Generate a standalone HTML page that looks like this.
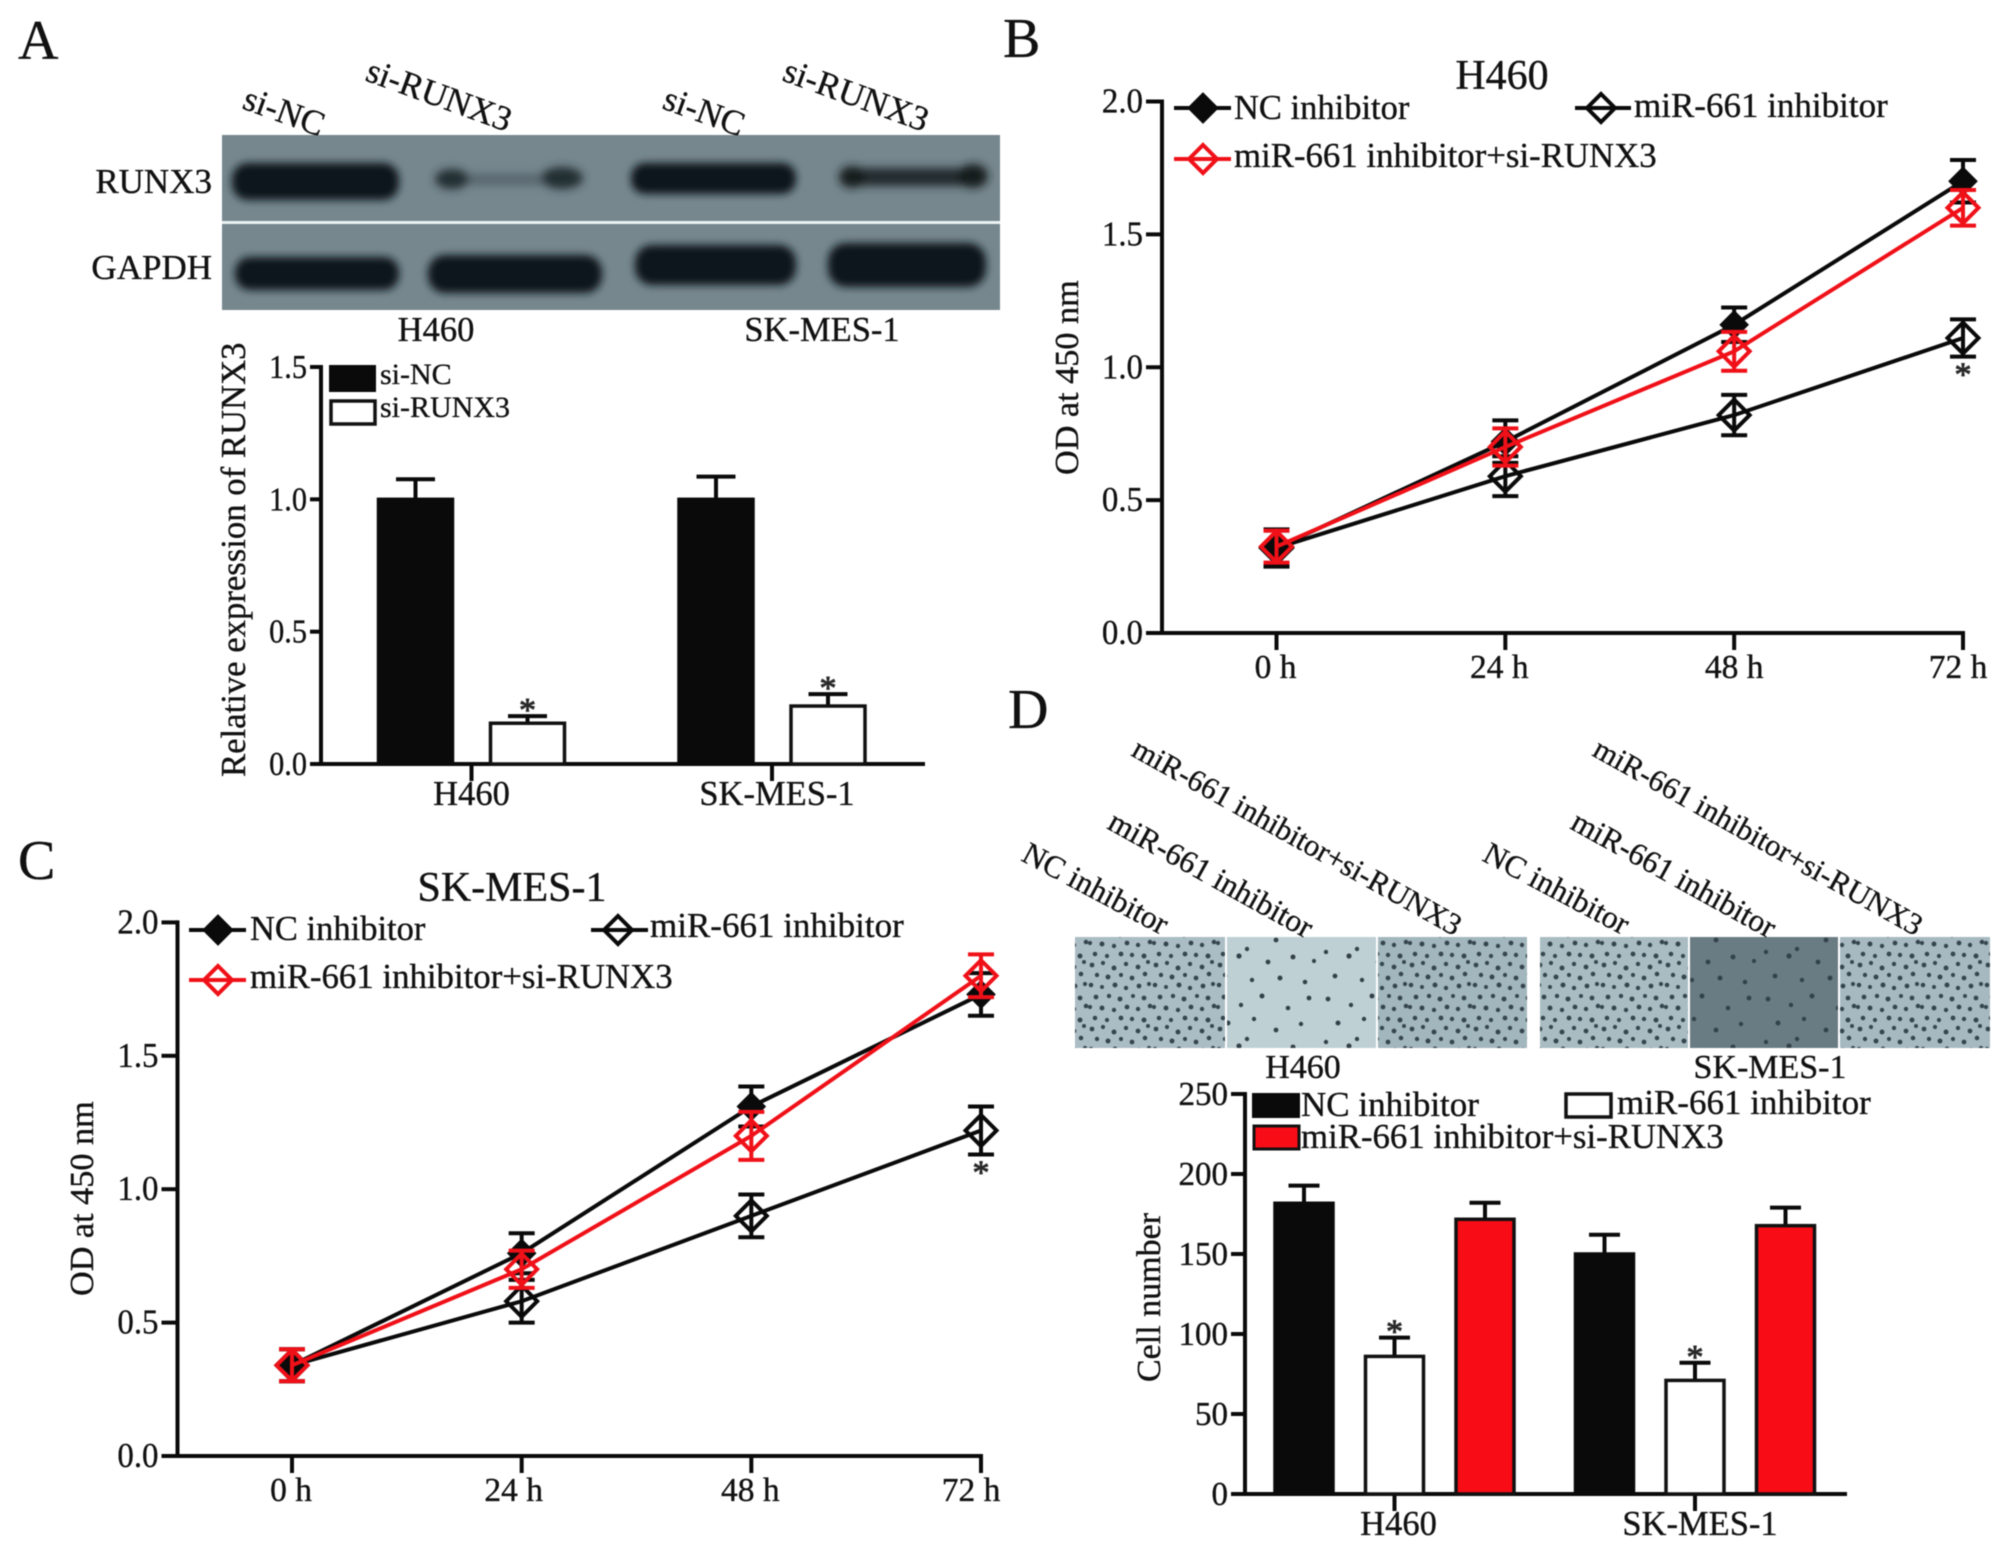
<!DOCTYPE html>
<html lang="en">
<head>
<meta charset="utf-8">
<title>RUNX3 knockdown figure</title>
<style>
html,body{margin:0;padding:0;background:#fff;}
#figure{display:block;width:2008px;height:1554px;filter:blur(.55px);}
#figure text{font-family:"Liberation Serif","Times New Roman",serif;fill:#111;stroke:#111;stroke-width:.35px;}
</style>
</head>
<body>
<svg id="figure" xmlns="http://www.w3.org/2000/svg" width="2008" height="1554" viewBox="0 0 2008 1554">
<defs>
  <filter id="band-blur" x="-20%" y="-50%" width="140%" height="200%"><feGaussianBlur stdDeviation="4"/></filter>
  <filter id="soft-blur" x="-30%" y="-80%" width="160%" height="260%"><feGaussianBlur stdDeviation="4.5"/></filter>
  <pattern id="cells-dense" patternUnits="userSpaceOnUse" width="64" height="64">
    <g fill="#36464f">
      <circle cx="4" cy="5" r="2.4"/><circle cx="15" cy="3" r="2.1"/><circle cx="26" cy="8" r="2.5"/><circle cx="38" cy="4" r="2.2"/><circle cx="50" cy="7" r="2.4"/><circle cx="60" cy="2" r="2"/>
      <circle cx="9" cy="15" r="2.2"/><circle cx="20" cy="17" r="2.5"/><circle cx="33" cy="15" r="2.1"/><circle cx="44" cy="18" r="2.4"/><circle cx="57" cy="14" r="2.3"/>
      <circle cx="3" cy="25" r="2.3"/><circle cx="14" cy="27" r="2"/><circle cx="27" cy="25" r="2.5"/><circle cx="38" cy="28" r="2.2"/><circle cx="51" cy="26" r="2.4"/><circle cx="61" cy="24" r="2.1"/>
      <circle cx="8" cy="37" r="2.4"/><circle cx="21" cy="36" r="2.2"/><circle cx="32" cy="39" r="2.5"/><circle cx="45" cy="36" r="2"/><circle cx="56" cy="38" r="2.4"/>
      <circle cx="2" cy="47" r="2.1"/><circle cx="14" cy="48" r="2.5"/><circle cx="26" cy="50" r="2.2"/><circle cx="39" cy="47" r="2.4"/><circle cx="50" cy="49" r="2.2"/><circle cx="62" cy="46" r="2.3"/>
      <circle cx="7" cy="58" r="2.3"/><circle cx="19" cy="60" r="2.1"/><circle cx="33" cy="58" r="2.4"/><circle cx="44" cy="59" r="2.2"/><circle cx="56" cy="60" r="2.5"/>
    </g>
  </pattern>
  <pattern id="cells-sparse" patternUnits="userSpaceOnUse" width="110" height="90">
    <g fill="#33424a">
      <circle cx="8" cy="9" r="2.4"/><circle cx="31" cy="15" r="2.2"/><circle cx="52" cy="6" r="2.5"/><circle cx="78" cy="18" r="2.3"/><circle cx="99" cy="8" r="2.4"/>
      <circle cx="18" cy="33" r="2.5"/><circle cx="44" cy="29" r="2.2"/><circle cx="66" cy="40" r="2.4"/><circle cx="91" cy="34" r="2.2"/>
      <circle cx="6" cy="52" r="2.2"/><circle cx="29" cy="56" r="2.6"/><circle cx="37" cy="49" r="2.2"/><circle cx="58" cy="62" r="2.4"/><circle cx="83" cy="57" r="2.5"/><circle cx="104" cy="61" r="2.1"/>
      <circle cx="15" cy="76" r="2.4"/><circle cx="42" cy="80" r="2.2"/><circle cx="70" cy="78" r="2.5"/><circle cx="95" cy="82" r="2.3"/>
    </g>
  </pattern>
</defs>
<rect x="0" y="0" width="2008" height="1554" fill="#fff"/>

<!-- Panel letters -->
<text x="18" y="59" font-size="56">A</text>
<text x="1003" y="57" font-size="56">B</text>
<text x="18" y="879" font-size="56">C</text>
<text x="1008" y="728" font-size="56">D</text>

<!-- Panel A western blot -->
<g>
  <rect x="222" y="135" width="778" height="86" fill="#76878e"/>
  <rect x="222" y="224" width="778" height="86" fill="#76878e"/>
  <rect x="222" y="221" width="778" height="3" fill="#eaf1f3"/>
  <g fill="#11171a" filter="url(#band-blur)">
    <rect x="232" y="163" width="167" height="37" rx="16"/>
    <rect x="631" y="163" width="165" height="31" rx="14"/>
    <rect x="235" y="257" width="164" height="33" rx="15"/>
    <rect x="428" y="255" width="174" height="38" rx="17"/>
    <rect x="635" y="245" width="161" height="40" rx="17"/>
    <rect x="828" y="243" width="158" height="44" rx="18"/>
  </g>
  <g filter="url(#soft-blur)">
    <rect x="445" y="174" width="125" height="11" fill="#56666d"/>
    <ellipse cx="452" cy="179" rx="17" ry="10" fill="#242d32"/>
    <ellipse cx="562" cy="178" rx="21" ry="11" fill="#242d32"/>
    <rect x="842" y="168" width="142" height="18" rx="8" fill="#20292d"/>
    <ellipse cx="852" cy="177" rx="13" ry="11" fill="#141a1d"/>
    <ellipse cx="973" cy="176" rx="15" ry="12" fill="#141a1d"/>
  </g>
</g>
<text x="212" y="193" font-size="35" text-anchor="end">RUNX3</text>
<text x="212" y="279" font-size="35" text-anchor="end">GAPDH</text>
<text transform="translate(241,108) rotate(20)" font-size="35">si-NC</text>
<text transform="translate(364,80) rotate(20)" font-size="35">si-RUNX3</text>
<text transform="translate(661,108) rotate(20)" font-size="35">si-NC</text>
<text transform="translate(781,80) rotate(20)" font-size="35">si-RUNX3</text>
<text x="436" y="341" font-size="34.5" text-anchor="middle">H460</text>
<text x="822" y="341" font-size="34.5" text-anchor="middle">SK-MES-1</text>

<!-- Panel A chart text -->
<text transform="translate(245,777) rotate(-90)" font-size="34.7">Relative expression of RUNX3</text>
<rect x="330" y="366" width="45" height="25" fill="#0a0a0a" stroke="#0a0a0a" stroke-width="2"/>
<text x="380" y="384" font-size="30">si-NC</text>
<rect x="331" y="401" width="44" height="23" fill="#fff" stroke="#111" stroke-width="3.5"/>
<text x="380" y="417" font-size="30">si-RUNX3</text>

<!-- Panel B text -->
<text x="1502" y="89" font-size="42" text-anchor="middle">H460</text>
<text transform="translate(1078,475) rotate(-90)" font-size="34.2">OD at 450 nm</text>
<g>
  <path d="M1174 108H1231M1203 95L1216 108L1203 121L1190 108Z" stroke="#0a0a0a" stroke-width="4" fill="#0a0a0a"/>
  <text x="1234" y="119" font-size="34.5">NC inhibitor</text>
  <path d="M1575 108H1631M1601 94L1615 108L1601 122L1587 108Z" stroke="#0a0a0a" stroke-width="4" fill="none"/>
  <text x="1634" y="117" font-size="35">miR-661 inhibitor</text>
  <path d="M1174 159H1231M1203 145L1217 159L1203 173L1189 159Z" stroke="#f01018" stroke-width="4" fill="none"/>
  <text x="1234" y="167" font-size="34.8">miR-661 inhibitor+si-RUNX3</text>
</g>

<!-- Panel C text -->
<text x="512" y="901" font-size="42" text-anchor="middle">SK-MES-1</text>
<text transform="translate(93,1296) rotate(-90)" font-size="34.2">OD at 450 nm</text>
<g>
  <path d="M189 930H246M218 917L231 930L218 943L205 930Z" stroke="#0a0a0a" stroke-width="4" fill="#0a0a0a"/>
  <text x="250" y="940" font-size="34.5">NC inhibitor</text>
  <path d="M591 930H648M618 916L632 930L618 944L604 930Z" stroke="#0a0a0a" stroke-width="4" fill="none"/>
  <text x="650" y="937" font-size="35">miR-661 inhibitor</text>
  <path d="M189 980H246M218 966L232 980L218 994L204 980Z" stroke="#f01018" stroke-width="4" fill="none"/>
  <text x="250" y="988" font-size="34.8">miR-661 inhibitor+si-RUNX3</text>
</g>

<!-- Panel D transwell images -->
<g>
  <rect x="1075" y="937" width="150" height="111" fill="#aabdc4"/>
  <rect x="1227" y="937" width="149" height="111" fill="#bfd0d4"/>
  <rect x="1378" y="937" width="149" height="111" fill="#a2b6bd"/>
  <rect x="1540" y="937" width="148" height="111" fill="#a9bcc2"/>
  <rect x="1690" y="937" width="148" height="111" fill="#697c83"/>
  <rect x="1840" y="937" width="150" height="111" fill="#a6b9c0"/>
  <rect x="1075" y="937" width="150" height="111" fill="url(#cells-dense)"/>
  <rect x="1227" y="937" width="149" height="111" fill="url(#cells-sparse)"/>
  <rect x="1378" y="937" width="149" height="111" fill="url(#cells-dense)"/>
  <rect x="1540" y="937" width="148" height="111" fill="url(#cells-dense)"/>
  <rect x="1690" y="937" width="148" height="111" fill="url(#cells-sparse)"/>
  <rect x="1840" y="937" width="150" height="111" fill="url(#cells-dense)"/>
</g>
<text transform="translate(1020,860) rotate(28)" font-size="31.5">NC inhibitor</text>
<text transform="translate(1106,828) rotate(29)" font-size="31.5">miR-661 inhibitor</text>
<text transform="translate(1130,755) rotate(29.2)" font-size="30.6">miR-661 inhibitor+si-RUNX3</text>
<text transform="translate(1481,860) rotate(28)" font-size="31.5">NC inhibitor</text>
<text transform="translate(1569,828) rotate(29)" font-size="31.5">miR-661 inhibitor</text>
<text transform="translate(1591,755) rotate(29.2)" font-size="30.6">miR-661 inhibitor+si-RUNX3</text>
<text x="1303" y="1078" font-size="34" text-anchor="middle">H460</text>
<text x="1770" y="1078" font-size="34" text-anchor="middle">SK-MES-1</text>

<!-- Panel D chart text -->
<text transform="translate(1160,1382) rotate(-90)" font-size="34">Cell number</text>
<g>
  <rect x="1253" y="1094" width="46" height="23" fill="#0a0a0a" stroke="#0a0a0a" stroke-width="2"/>
  <text x="1301" y="1116" font-size="35">NC inhibitor</text>
  <rect x="1566" y="1094" width="45" height="23" fill="#fff" stroke="#111" stroke-width="3.5"/>
  <text x="1617" y="1114" font-size="35">miR-661 inhibitor</text>
  <rect x="1254" y="1126" width="45" height="23" fill="#f80c16" stroke="#111" stroke-width="3"/>
  <text x="1301" y="1148" font-size="34.8">miR-661 inhibitor+si-RUNX3</text>
</g>

<g id="plots"></g>
</svg>
<script>
/* Panel A data */
const panelACategories = ['H460', 'SK-MES-1'];
const panelASiNC = [1.0, 1.0];
const panelASiNCErr = [0.076, 0.086];
const panelASiRUNX3 = [0.154, 0.219];
const panelASiRUNX3Err = [0.027, 0.045];
const panelAYTicks = ['0.0', '0.5', '1.0', '1.5'];

/* Panel B data */
const timeLabels = ['0 h', '24 h', '48 h', '72 h'];
const odTicks = ['0.0', '0.5', '1.0', '1.5', '2.0'];
const panelBNC = [0.32, 0.72, 1.16, 1.70];
const panelBNCErr = [0.07, 0.08, 0.065, 0.08];
const panelBMir = [0.32, 0.59, 0.82, 1.11];
const panelBMirErr = [0.065, 0.075, 0.076, 0.07];
const panelBCombo = [0.325, 0.70, 1.06, 1.60];
const panelBComboErr = [0.06, 0.07, 0.073, 0.067];

/* Panel C data */
const panelCNC = [0.34, 0.76, 1.31, 1.73];
const panelCNCErr = [0.06, 0.075, 0.075, 0.08];
const panelCMir = [0.34, 0.58, 0.90, 1.22];
const panelCMirErr = [0.06, 0.08, 0.08, 0.09];
const panelCCombo = [0.34, 0.70, 1.20, 1.80];
const panelCComboErr = [0.06, 0.07, 0.09, 0.08];

/* Panel D data */
const panelDCategories = ['H460', 'SK-MES-1'];
const panelDNC = [181.7, 150];
const panelDNCErr = [11, 12];
const panelDMir = [86, 71];
const panelDMirErr = [11.7, 11];
const panelDCombo = [171.7, 167.7];
const panelDComboErr = [10.3, 11.3];
const panelDYTicks = ['0', '50', '100', '150', '200', '250'];

const plots = document.getElementById('plots');
const NS = 'http://www.w3.org/2000/svg';
const BLACK = '#0a0a0a';
const RED = '#f01018';

function mk(parent, tag, attrs) {
  const el = document.createElementNS(NS, tag);
  for (const k in attrs) el.setAttribute(k, attrs[k]);
  parent.appendChild(el);
  return el;
}

function linearScale(d0, d1, r0, r1) {
  return function (v) { return r0 + (v - d0) * (r1 - r0) / (d1 - d0); };
}

function drawAxes(cfg) {
  const g = mk(plots, 'g', {});
  
  

  const yLine = mk(g, 'line', { x1: cfg.axisX, x2: cfg.axisX, y1: cfg.y(cfg.yMax) - 2, y2: cfg.y(0) + 2, stroke: BLACK, 'stroke-width': 4 });
  
  

  const xLine = mk(g, 'line', { x1: cfg.axisX - cfg.tickLen, x2: cfg.axisEnd, y1: cfg.y(0), y2: cfg.y(0), stroke: BLACK, 'stroke-width': 4 });
  
  

  cfg.yTicks.forEach(function (label) {
    const py = cfg.y(parseFloat(label));
    const tick = mk(g, 'line', { x1: cfg.axisX - cfg.tickLen, x2: cfg.axisX, y1: py, y2: py, stroke: BLACK, 'stroke-width': 4 });
    
    
    const t = mk(g, 'text', { transform: 'translate(' + (cfg.axisX - cfg.tickLen - 3) + ',' + (py + 11) + ') scale(' + cfg.ySx + ',1)', 'font-size': cfg.yFont, 'text-anchor': 'end' });
    t.textContent = label;
    
    
  });

  cfg.xLabels.forEach(function (label, i) {
    const px = cfg.xTick(i);
    const tick = mk(g, 'line', { x1: px, x2: px, y1: cfg.y(0), y2: cfg.y(0) + 17, stroke: BLACK, 'stroke-width': 4 });
    
    
    const t = mk(g, 'text', { x: px + cfg.labelShift(i), y: cfg.y(0) + cfg.labelDrop, 'font-size': cfg.xFont, 'text-anchor': 'middle' });
    t.textContent = label;
    
    
  });
}

function star(parent, x, centerY) {
  const t = mk(parent, 'text', { x: x, y: centerY + 16, 'font-size': 34, 'text-anchor': 'middle', style: 'fill:#2a2a2a;stroke:#2a2a2a;stroke-width:.9px' });
  t.textContent = '*';
  
  
}

function drawBar(parent, cx, halfW, y, value, err, capHalf, fill, stroke) {
  const base = y(0);
  const top = y(value);
  const errTop = y(value + err);
  const stem = mk(parent, 'path', { d: 'M' + cx + ' ' + top + 'V' + errTop + 'M' + (cx - capHalf) + ' ' + errTop + 'H' + (cx + capHalf), stroke: BLACK, 'stroke-width': 4, fill: 'none' });
  
  
  const bar = mk(parent, 'rect', { x: cx - halfW, y: top, width: halfW * 2, height: base - top, fill: fill, stroke: stroke, 'stroke-width': 3.5 });
  
  
  return errTop;
}

/* Panel A */
(function () {
  const y = linearScale(0, 1.5, 764, 367);
  const xTick = linearScale(0, 1, 471.5, 772);
  drawAxes({ name: 'panel-a', axisX: 321, axisEnd: 925, tickLen: 11, y: y, yMax: 1.5, yTicks: panelAYTicks, yFont: 34, ySx: 0.89, xFont: 34.5, xLabels: panelACategories, xTick: xTick, labelShift: function (i) { return i ? 5 : 0; }, labelDrop: 41 });
  const g = mk(plots, 'g', {});
  
  
  panelACategories.forEach(function (_, i) {
    const c = xTick(i);
    drawBar(g, c - 56, 37, y, panelASiNC[i], panelASiNCErr[i], 19.5, BLACK, BLACK);
    const top = drawBar(g, c + 56, 37, y, panelASiRUNX3[i], panelASiRUNX3Err[i], 19.5, '#fff', '#111');
    star(g, c + 56, top - 11);
  });
})();

/* Panel D */
(function () {
  const y = linearScale(0, 250, 1494, 1094);
  const xTick = linearScale(0, 1, 1394.5, 1695);
  drawAxes({ name: 'panel-d', axisX: 1245, axisEnd: 1847, tickLen: 14, y: y, yMax: 250, yTicks: panelDYTicks, yFont: 34, ySx: 0.97, xFont: 34.5, xLabels: panelDCategories, xTick: xTick, labelShift: function (i) { return i ? 5 : 4; }, labelDrop: 41 });
  const g = mk(plots, 'g', {});
  
  
  panelDCategories.forEach(function (_, i) {
    const c = xTick(i);
    drawBar(g, c - 90.5, 29, y, panelDNC[i], panelDNCErr[i], 15.5, BLACK, BLACK);
    const top = drawBar(g, c, 29, y, panelDMir[i], panelDMirErr[i], 15.5, '#fff', '#111');
    star(g, c, top - 11);
    drawBar(g, c + 90.5, 29, y, panelDCombo[i], panelDComboErr[i], 15.5, '#f80c16', '#111');
  });
})();

function drawSeries(parent, x, y, values, errs, color, filled, key) {
  const g = mk(parent, 'g', {});
  
  
  const d = values.map(function (v, i) { return (i ? 'L' : 'M') + x(i) + ' ' + y(v); }).join('');
  const line = mk(g, 'path', { d: d, fill: 'none', stroke: color, 'stroke-width': 4 });
  
  
  values.forEach(function (v, i) {
    const px = x(i);
    const hi = y(v + errs[i]);
    const lo = y(v - errs[i]);
    const err = mk(g, 'path', { d: 'M' + px + ' ' + hi + 'V' + lo + 'M' + (px - 13) + ' ' + hi + 'H' + (px + 13) + 'M' + (px - 13) + ' ' + lo + 'H' + (px + 13), fill: 'none', stroke: color, 'stroke-width': 4 });
    
    
    const r = filled ? 12 : 15.5;
    const py = y(v);
    const mark = mk(g, 'path', { d: 'M' + px + ' ' + (py - r) + 'L' + (px + r) + ' ' + py + 'L' + px + ' ' + (py + r) + 'L' + (px - r) + ' ' + py + 'Z', fill: filled ? color : 'none', stroke: color, 'stroke-width': 4 });
    
    
  });
}

function lineChart(cfg) {
  const hours = linearScale(0, 3, cfg.x0, cfg.x3);
  drawAxes({ name: cfg.name, axisX: cfg.axisX, axisEnd: cfg.x3 + 2, tickLen: 16, y: cfg.y, yMax: 2, yTicks: odTicks, yFont: 35, ySx: 0.94, xFont: 33.5, xLabels: timeLabels, xTick: hours, labelShift: cfg.labelShift, labelDrop: 45 });
  drawSeries(plots, hours, cfg.y, cfg.nc, cfg.ncErr, BLACK, true, cfg.name + '-nc-inhibitor');
  drawSeries(plots, hours, cfg.y, cfg.mir, cfg.mirErr, BLACK, false, cfg.name + '-mir-661-inhibitor');
  drawSeries(plots, hours, cfg.y, cfg.combo, cfg.comboErr, RED, false, cfg.name + '-combo');
  const last = cfg.mir.length - 1;
  star(plots, hours(last), cfg.y(cfg.mir[last] - cfg.mirErr[last]) + 13);
}

lineChart({ name: 'panel-b', axisX: 1162, x0: 1276.5, x3: 1963, y: linearScale(0, 2, 633, 101.5), labelShift: function (i) { return [-1, -6, 0, -5][i]; }, nc: panelBNC, ncErr: panelBNCErr, mir: panelBMir, mirErr: panelBMirErr, combo: panelBCombo, comboErr: panelBComboErr });
lineChart({ name: 'panel-c', axisX: 177.5, x0: 292, x3: 981, y: linearScale(0, 2, 1456, 922.4), labelShift: function (i) { return [-1, -8, -1, -10][i]; }, nc: panelCNC, ncErr: panelCNCErr, mir: panelCMir, mirErr: panelCMirErr, combo: panelCCombo, comboErr: panelCComboErr });
</script>
</body>
</html>
